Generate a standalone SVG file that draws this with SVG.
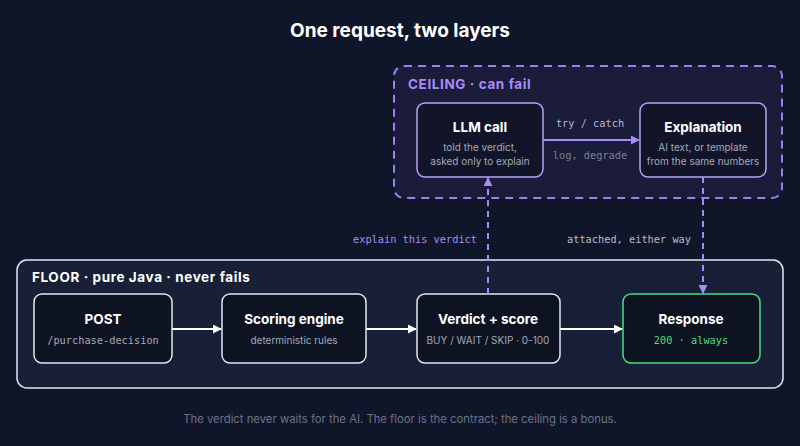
<svg xmlns="http://www.w3.org/2000/svg" width="800" height="446" viewBox="0 0 800 446">
<defs>
<style>
.title{font-family:Inter,"Liberation Sans",sans-serif;font-weight:700;font-size:19px;fill:#ffffff}
.h{font-family:Inter,"Liberation Sans",sans-serif;font-weight:700;font-size:13.5px;fill:#ffffff;text-anchor:middle}
.s{font-family:Inter,"Liberation Sans",sans-serif;font-size:10px;fill:#a3a9b8;text-anchor:middle}
.m{font-family:"DejaVu Sans Mono",monospace;font-size:10.3px}
.box{fill:#0e1322;stroke:#e2e6f0;stroke-width:1.5}
.pbox{fill:#12142a;stroke:#b7a3f5;stroke-width:1.5}
.gbox{fill:#0e1322;stroke:#4ade80;stroke-width:1.5}
.wline{stroke:#ffffff;stroke-width:2;fill:none}
.pline{stroke:#a78bfa;stroke-width:2;fill:none}
.pdash{stroke:#a78bfa;stroke-width:2;fill:none;stroke-dasharray:6 5}
.lbl{font-family:Inter,"Liberation Sans",sans-serif;font-weight:700;font-size:13.5px;letter-spacing:0.6px}
</style>
<marker id="aw" viewBox="0 0 10 10" refX="9" refY="5" markerWidth="4.5" markerHeight="4.5" orient="auto"><path d="M0,0 L10,5 L0,10 z" fill="#ffffff"/></marker>
<marker id="ap" viewBox="0 0 10 10" refX="9" refY="5" markerWidth="4.5" markerHeight="4.5" orient="auto"><path d="M0,0 L10,5 L0,10 z" fill="#a78bfa"/></marker>
</defs>
<rect width="800" height="446" fill="#10162a"/>
<text class="title" x="400" y="37" text-anchor="middle">One request, two layers</text>

<g id="ceiling">
<rect x="394" y="66" width="388" height="132" rx="10" fill="#1b1b3a" stroke="#9b7ff0" stroke-width="2" stroke-dasharray="8 6"/>
<text class="lbl" x="408" y="89" fill="#a78bfa">CEILING · can fail</text>
</g>
<g id="floor">
<rect x="17" y="260" width="766" height="128" rx="10" fill="#172036" stroke="#e2e6f0" stroke-width="1.5"/>
<text class="lbl" x="32" y="282" fill="#ffffff">FLOOR · pure Java · never fails</text>
</g>

<g id="llm">
<rect class="pbox" x="417" y="103" width="126" height="74" rx="8"/>
<text class="h" x="480" y="132">LLM call</text>
<text class="s" x="480" y="151">told the verdict,</text>
<text class="s" x="480" y="165">asked only to explain</text>
</g>
<g id="explanation">
<rect class="pbox" x="640" y="103" width="126" height="74" rx="8"/>
<text class="h" x="703" y="132">Explanation</text>
<text class="s" x="703" y="151">AI text, or template</text>
<text class="s" x="703" y="165">from the same numbers</text>
</g>

<g id="post">
<rect class="box" x="34" y="294" width="138" height="69" rx="8"/>
<text class="h" x="103" y="324">POST</text>
<text class="m" x="103" y="344" text-anchor="middle" fill="#a3a9b8">/purchase-decision</text>
</g>
<g id="scoring">
<rect class="box" x="222" y="294" width="144" height="69" rx="8"/>
<text class="h" x="294" y="324">Scoring engine</text>
<text class="s" x="294" y="344">deterministic rules</text>
</g>
<g id="verdict">
<rect class="box" x="417" y="294" width="143" height="69" rx="8"/>
<text class="h" x="488" y="324">Verdict + score</text>
<text class="s" x="488" y="344">BUY / WAIT / SKIP · 0-100</text>
</g>
<g id="response">
<rect class="gbox" x="623" y="294" width="137" height="69" rx="8"/>
<text class="h" x="691" y="324">Response</text>
<text class="m" x="691" y="344" text-anchor="middle" fill="#4ade80">200 · always</text>
</g>

<g id="connectors">
<line class="wline" x1="172" y1="329" x2="221" y2="329" marker-end="url(#aw)"/>
<line class="wline" x1="366" y1="329" x2="416" y2="329" marker-end="url(#aw)"/>
<line class="wline" x1="560" y1="329" x2="622" y2="329" marker-end="url(#aw)"/>
<line class="pline" x1="543" y1="140" x2="639" y2="140" marker-end="url(#ap)"/>
<text class="m" x="590" y="127" text-anchor="middle" fill="#b8b6d8">try / catch</text>
<text class="m" x="590" y="159" text-anchor="middle" fill="#7c7f96">log, degrade</text>
<line class="pdash" x1="488" y1="294" x2="488" y2="178" marker-end="url(#ap)"/>
<text class="m" x="477" y="243" text-anchor="end" fill="#a78bfa">explain this verdict</text>
<line class="pdash" x1="703" y1="177" x2="703" y2="293" marker-end="url(#ap)"/>
<text class="m" x="691" y="243" text-anchor="end" fill="#b8bccb">attached, either way</text>
</g>

<text x="400" y="423" text-anchor="middle" font-family="Inter,'Liberation Sans',sans-serif" font-size="11.3" fill="#6b7285">The verdict never waits for the AI. The floor is the contract; the ceiling is a bonus.</text>
</svg>
